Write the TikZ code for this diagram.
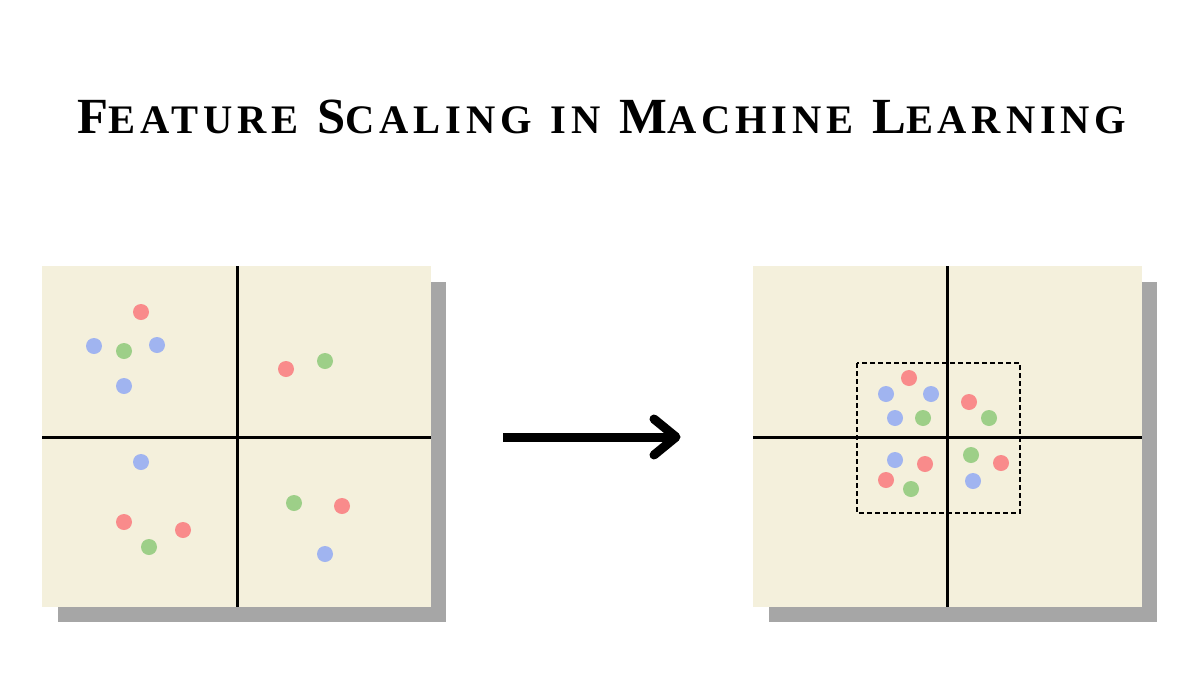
\documentclass[tikz,border=0pt]{standalone}
\usepackage{fontspec}
\setmainfont{Liberation Serif}
\usepackage{graphicx}
\definecolor{panel}{HTML}{F4F0DC}
\definecolor{shad}{HTML}{A6A6A6}
\definecolor{dr}{HTML}{F98B8B}
\definecolor{db}{HTML}{A0B4F0}
\definecolor{dg}{HTML}{9DCF88}
\newcommand{\mysc}[1]{{\fontsize{32}{32}\selectfont #1}}
\begin{document}
\begin{tikzpicture}[x=1pt,y=-1pt,
  axis/.style={line width=3pt},
  pt/.style={circle,inner sep=0pt,minimum size=16pt}]
\useasboundingbox (0,0) rectangle (1200,675);
\node (title) at (602,117) {\resizebox{1049pt}{!}{\bfseries\addfontfeature{LetterSpace=12}\fontsize{40}{40}\selectfont F\mysc{EATURE} S\mysc{CALING} \mysc{IN} M\mysc{ACHINE} L\mysc{EARNING}}};
% left panel
\fill[shad] (58,282) rectangle (446,622);
\fill[panel] (42,266) rectangle (431,607);
\draw[axis] (237,266) -- (237,607);
\draw[axis] (42,437) -- (431,437);
% right panel
\fill[shad] (769,282) rectangle (1157,622);
\fill[panel] (753,266) rectangle (1142,607);
\draw[axis] (947,266) -- (947,607);
\draw[axis] (753,437) -- (1142,437);
\draw[dash pattern=on 5pt off 3pt,line width=1.3pt] (857,363) rectangle (1020,513);
% arrow
\coordinate (a1) at (503,437);
\coordinate (a2) at (674,437);
\draw[line width=9pt] (a1) -- (a2);
\draw[line width=9pt,line cap=round,line join=round] (654,419) -- (676,437) -- (654,455);
% dots
\foreach \c/\x/\y in {dr/141/312,db/94/346,dg/124/351,db/157/345,db/124/386,dr/286/369,dg/325/361,db/141/462,dr/124/522,dr/183/530,dg/149/547,dg/294/503,dr/342/506,db/325/554,
 dr/909/378,db/886/394,db/931/394,db/895/418,dg/923/418,dr/969/402,dg/989/418,db/895/460,dr/925/464,dr/886/480,dg/911/489,dg/971/455,dr/1001/463,db/973/481}
  \node[pt,fill=\c] at (\x,\y) {};
\end{tikzpicture}
\end{document}
